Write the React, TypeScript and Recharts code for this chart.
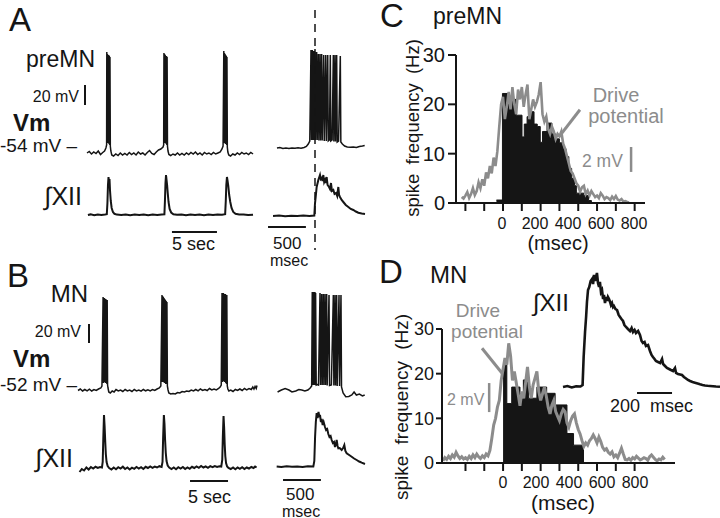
import React from 'react';
import { LineChart, Line, XAxis, YAxis, ReferenceLine, ComposedChart, Area } from 'recharts';

type P = [number, number];
const INK = '#151515';
const GRAY = '#8c8c8c';
const FONT = "'Liberation Sans', Arial, Helvetica, sans-serif";

// ---------- Panel A (preMN) ----------
const aLongVm: P[] = [
  [0, -54], [0.25, -52.5], [0.5, -55], [0.75, -53], [1.0, -54.5], [1.25, -52], [1.5, -55.5], [1.75, -53.5], [1.95, -52], [2.1, -49], [2.18, -46],
  [2.2, 47], [2.24, -44], [2.27, 45], [2.31, -43], [2.34, 44], [2.38, -44], [2.41, 44], [2.45, -45], [2.48, 43], [2.52, -46], [2.55, 42], [2.59, -47],
  [2.65, -52], [2.75, -56], [2.95, -57], [3.2, -55], [3.45, -56.5], [3.7, -54], [3.95, -56], [4.2, -54.5], [4.45, -56], [4.7, -53.5], [4.95, -55.5], [5.2, -54], [5.45, -56], [5.7, -53], [5.95, -55], [6.2, -54], [6.45, -56], [6.7, -53.5], [6.95, -51.5], [7.2, -54.5], [7.45, -55.5], [7.7, -53], [7.95, -51], [8.2, -50], [8.45, -48], [8.52, -46],
  [8.55, 46], [8.59, -44], [8.62, 45], [8.66, -43], [8.69, 44], [8.73, -44], [8.76, 43], [8.8, -45], [8.83, 43], [8.87, -46], [8.9, 42], [8.94, -47],
  [9.0, -52], [9.1, -55.5], [9.3, -56.5], [9.55, -55], [9.8, -56], [10.05, -54], [10.3, -56], [10.55, -54.5], [10.8, -56], [11.05, -54], [11.3, -55.5], [11.55, -53.5], [11.8, -55], [12.05, -53], [12.3, -55.5], [12.55, -54], [12.8, -56], [13.05, -53.5], [13.3, -55], [13.55, -54], [13.8, -55.5], [14.05, -53.5], [14.3, -55], [14.55, -54], [14.8, -53], [15.0, -50], [15.12, -47],
  [15.2, 48], [15.24, -44], [15.27, 46], [15.31, -44], [15.34, 45], [15.38, -45], [15.41, 44], [15.45, -45], [15.48, 43], [15.52, -46], [15.55, 42], [15.59, -48],
  [15.65, -53], [15.75, -56], [15.95, -57], [16.2, -55], [16.45, -56], [16.7, -54], [16.95, -55.5], [17.2, -53.5], [17.45, -55], [17.7, -54], [17.95, -55.5], [18.2, -53.5], [18.45, -55],
];
const aLongXii: P[] = [
  [0.1, 0], [0.4, 0.6], [0.8, -0.3], [1.2, 0.5], [1.6, 0], [2.0, 0.4], [2.2, 0.8], [2.27, 12], [2.33, 30], [2.39, 38], [2.45, 33], [2.5, 36], [2.56, 24], [2.64, 14], [2.74, 7], [2.88, 3], [3.05, 1.2], [3.3, 0.4], [3.8, 0], [4.3, 0.6], [4.8, -0.2], [5.3, 0.4], [5.8, 0], [6.3, 0.5], [6.8, -0.2], [7.3, 0.4], [7.8, 0], [8.3, 0.6], [8.6, 0.8],
  [8.66, 14], [8.72, 32], [8.78, 40], [8.84, 35], [8.9, 30], [8.97, 22], [9.06, 13], [9.18, 6], [9.35, 2.5], [9.6, 0.8], [10.0, 0.2], [10.5, 0.6], [11.0, -0.2], [11.5, 0.4], [12.0, 0], [12.5, 0.5], [13.0, -0.3], [13.5, 0.4], [14.0, 0], [14.5, 0.5], [15.0, 0.2], [15.35, 0.8],
  [15.42, 14], [15.48, 30], [15.55, 38], [15.62, 34], [15.7, 29], [15.8, 20], [15.92, 13], [16.06, 7], [16.25, 3], [16.5, 1.2], [16.9, 0.4], [17.4, 0.6], [17.9, 0], [18.45, 0.3],
];
const aRightVm: P[] = [
  [92, -54], [130, -53.5], [170, -54.5], [210, -54], [250, -54.6], [290, -54], [330, -54.3], [370, -53.8], [410, -54.2], [450, -53.5], [480, -52.5], [505, -50], [525, -47],
  [541, 44], [548, -46], [558, 44], [565, -46], [577, 43], [584, -46], [594, 45], [601, -46], [616, 42], [623, -46], [638, 40], [645, -46.5], [660, 40], [667, -46.5], [682, 40], [689, -46.5], [709, 39], [716, -47], [736, 39], [743, -47], [762, 39], [769, -47], [785, -46], [796, 39], [803, -47], [820, -46], [836, 39], [843, -47.5], [858, 39], [865, -47.5], [880, 39], [887, -48], [905, -47], [928, 38], [935, -48],
  [955, -50], [985, -52], [1020, -53], [1060, -53.3], [1100, -53], [1140, -53.5], [1180, -52.5], [1220, -52], [1250, -51.5],
];
const aRightXii: P[] = [
  [40, 0], [120, 0.4], [200, -0.2], [280, 0.3], [360, -0.1], [440, 0.4], [520, 0], [585, 0.5], [594, 12.7], [603, 19], [616, 29], [638, 36], [660, 41], [670, 37], [682, 38], [693, 35], [704, 41], [715, 34], [726, 36], [737, 33], [748, 39], [760, 31], [779, 29], [792, 27], [805, 33], [818, 25], [836, 26], [852, 22], [871, 23], [887, 20], [902, 29], [912, 21], [924, 19], [946, 16], [968, 14], [1000, 11], [1034, 9], [1066, 7], [1100, 6], [1133, 4.5], [1166, 3.3], [1210, 2.5], [1254, 2],
];

// ---------- Panel B (MN) ----------
const bLongVm: P[] = [
  [0, -52.5], [0.3, -51], [0.6, -53], [0.9, -51.5], [1.2, -52.8], [1.5, -51.2], [1.8, -53], [2.1, -51.5], [2.4, -52.5], [2.7, -51], [3.0, -50], [3.15, -48],
  [3.3, 41], [3.35, -45], [3.39, 40], [3.44, -44], [3.48, 40], [3.53, -44], [3.57, 39], [3.62, -45], [3.66, 39], [3.71, -45], [3.75, 38], [3.8, -46], [3.84, 38], [3.89, -47],
  [3.95, -50], [4.05, -54], [4.25, -55], [4.5, -53], [4.75, -54], [5.0, -51.5], [5.3, -53], [5.6, -52], [5.9, -53.5], [6.2, -51.5], [6.5, -53], [6.8, -52], [7.1, -53.5], [7.4, -51.5], [7.7, -53], [8.0, -52], [8.3, -53.2], [8.6, -51.5], [8.9, -52.8], [9.2, -51.8], [9.5, -53], [9.8, -51.5], [10.1, -52.5], [10.4, -51], [10.7, -50], [10.9, -48],
  [11.05, 43], [11.1, -44], [11.14, 42], [11.19, -44], [11.23, 41], [11.28, -44], [11.32, 40], [11.37, -45], [11.41, 39], [11.46, -45], [11.5, 38], [11.55, -46], [11.6, 37], [11.65, -46], [11.7, 36], [11.76, -48],
  [11.85, -52], [11.95, -55], [12.2, -56], [12.5, -55.5], [12.8, -56], [13.1, -54.5], [13.4, -55], [13.7, -53.5], [14.0, -54], [14.3, -53], [14.6, -53.5], [14.9, -52], [15.2, -53], [15.5, -51.5], [15.8, -52.8], [16.1, -51], [16.4, -52.5], [16.7, -51.5], [17.0, -52.5], [17.3, -50.5], [17.6, -52], [17.9, -51], [18.2, -52], [18.5, -50.5], [18.7, -49], [18.85, -47],
  [18.95, 45], [19.0, -44], [19.04, 45], [19.09, -43], [19.13, 45], [19.18, -43], [19.22, 44], [19.27, -44], [19.31, 44], [19.36, -44], [19.4, 44], [19.45, -45], [19.49, 43], [19.54, -46], [19.58, 43], [19.64, -48],
  [19.72, -51], [19.85, -53], [20.1, -52], [20.4, -53.5], [20.7, -51.5], [21.0, -52.5], [21.3, -51], [21.6, -52.5], [21.9, -50.5], [22.2, -51.8], [22.5, -50.5], [22.8, -51.5], [23.0, -49], [23.15, -51], [23.3, -48.5], [23.45, -50.5], [23.55, -47.5],
];
const bLongXii: P[] = [
  [0.2, -4], [0.5, -1], [0.8, -2.5], [1.1, 0.5], [1.4, -1.5], [1.7, 1], [2.0, -0.5], [2.3, 1.2], [2.6, 0], [2.9, 1], [3.15, 0.5], [3.25, 6], [3.33, 30], [3.42, 53], [3.5, 42], [3.58, 27], [3.66, 14], [3.76, 6], [3.9, 2], [4.1, 0], [4.4, -1.5], [4.7, 0.5], [5.0, -1.2], [5.3, 0.8], [5.6, -0.5], [5.9, 1.3], [6.2, -1], [6.5, 0.5], [6.8, -1.5], [7.1, 0.3], [7.4, -0.8], [7.7, 1], [8.0, -0.5], [8.3, 0.8], [8.6, -1], [8.9, 1.2], [9.2, 0], [9.5, 1.5], [9.8, 0.2], [10.1, 1.4], [10.4, 0.5], [10.7, 1.8], [11.0, 1],
  [11.12, 6], [11.2, 30], [11.3, 53], [11.38, 44], [11.46, 28], [11.55, 15], [11.65, 7], [11.8, 2.5], [12.0, 0.5], [12.3, -1], [12.6, 0.5], [12.9, -1.2], [13.2, 0.8], [13.5, -0.5], [13.8, 1], [14.1, -1], [14.4, 0.5], [14.7, -0.8], [15.0, 1.2], [15.3, 0], [15.6, 1.5], [15.9, 0.2], [16.2, 2], [16.5, 0.5], [16.8, 1.6], [17.1, 0.2], [17.4, 1.8], [17.7, 0.8], [18.0, 2], [18.3, 1], [18.6, 1.8], [18.85, 1.5],
  [18.98, 8], [19.06, 32], [19.15, 52], [19.23, 40], [19.3, 24], [19.38, 12], [19.48, 5], [19.62, 1.5], [19.8, 0], [20.1, -1], [20.4, 0.5], [20.7, -1.2], [21.0, 0.6], [21.3, -0.8], [21.6, 0.8], [21.9, -1], [22.2, 0.5], [22.5, -0.5], [22.8, 1], [23.1, 0], [23.3, 1.5], [23.5, 0.5],
];
const bRightVm: P[] = [
  [100, -52], [150, -50], [200, -48.5], [250, -50], [290, -52], [340, -51], [380, -49.5], [420, -50], [460, -51], [500, -50], [530, -48], [550, -46],
  [558, 48], [563, -45], [567, 48], [572, -45], [576, 48], [580, -45], [584, 48], [589, -45], [593, 48], [598, -45], [602, 47], [610, -45], [625, -44.5], [640, -45], [660, 47], [667, -45], [682, 46], [689, -45], [704, 46], [711, -45], [726, 46], [733, -45], [748, 46], [755, -45.5], [779, 45], [786, -45.5], [810, -45], [836, 45], [843, -45.5], [858, 45], [865, -45.5], [880, 45], [887, -46], [911, 45], [918, -46], [937, 45], [944, -47],
  [965, -53], [1000, -56.7], [1040, -56.5], [1080, -55], [1110, -52], [1140, -55], [1180, -54], [1220, -56], [1250, -55],
];
const bRightXii: P[] = [
  [88, 0.5], [150, 0], [220, 0.8], [290, 0.2], [360, 0.6], [430, 0], [500, 0.7], [572, 0.5], [585, 6], [595, 30], [605, 45], [616, 54], [628, 49], [640, 55], [652, 50], [660, 52], [672, 45], [682, 48], [695, 42], [708, 45], [726, 40], [740, 37], [755, 38], [770, 33], [785, 30], [800, 31], [814, 27], [830, 24], [845, 25], [858, 20], [870, 23], [880, 27], [892, 21], [902, 18.7], [920, 19], [946, 17], [965, 19], [981, 22], [995, 16], [1012, 13.7], [1045, 12], [1078, 10.3], [1110, 8.5], [1144, 7], [1177, 5.5], [1210, 4.3], [1254, 3],
];

// ---------- Panel C (preMN spike frequency, Hz vs msec) ----------
const histC: P[] = [
  [-35, 0.6], [-3, 22.2], [30, 20], [42, 21], [70, 17.8], [101, 13.4], [113, 16], [128, 17.5], [145, 18.5], [165, 16], [182, 15.5], [198, 12.3], [210, 14.5], [234, 16.2], [260, 14], [280, 13], [300, 12.2], [320, 11], [335, 9.4], [350, 7], [365, 5], [380, 3.5], [390, 2], [430, 1.5], [455, 0.5], [470, 0],
];
const driveC: P[] = [
  [-220, 1.2], [-210, 0.9], [-200, 1.5], [-190, 2.2], [-180, 1.0], [-170, 1.8], [-160, 3.0], [-150, 1.6], [-140, 2.4], [-130, 4.2], [-120, 3.0], [-110, 4.8], [-100, 3.5], [-90, 6.2], [-80, 5.0], [-70, 7.5], [-60, 6.0], [-50, 9.2], [-40, 7.5], [-30, 10.5], [-20, 15.5], [-10, 20.0],
  [0, 21.5], [10, 17.0], [20, 19.5], [30, 22.5], [40, 19.0], [50, 23.5], [60, 20.0], [70, 18.0], [80, 23.0], [90, 21.0], [100, 23.5], [110, 19.5], [120, 22.0], [130, 24.0], [140, 17.0], [150, 19.0], [160, 21.0], [170, 19.5], [180, 20.5], [190, 22.0], [200, 24.5], [210, 18.0], [220, 16.5], [230, 17.5], [240, 15.0], [250, 14.0], [260, 15.5], [270, 14.5], [280, 13.0], [290, 14.0], [300, 13.5], [310, 14.5], [320, 12.0], [330, 11.0], [340, 9.5], [350, 8.0], [360, 6.5], [370, 6.0], [380, 5.0], [390, 4.0], [400, 3.5], [410, 2.3], [420, 3.2], [430, 3.5], [440, 1.8], [450, 2.5], [460, 1.5], [470, 2.4], [480, 1.8], [490, 1.2], [500, 1.5], [510, 1.0], [520, 2.0], [530, 1.5], [540, 0.8], [550, 1.2], [560, 1.0], [570, 0.6], [580, 1.3], [590, 0.8], [600, 1.4], [610, 0.7], [620, 0.5], [630, 0.8], [640, 0.3], [650, 0.4], [660, 0.2], [670, 0.1],
];

// ---------- Panel D (MN spike frequency) ----------
const histD: P[] = [
  [0, 22.7], [20, 13.3], [46, 17], [90, 15.5], [108, 18.6], [135, 14.5], [180, 17], [232, 15.6], [277, 13], [340, 6.6], [375, 4], [428, 0],
];
const driveD: P[] = [
  [-320, 0.5], [-310, 1.2], [-300, 0.8], [-290, 1.5], [-280, 1.0], [-270, 1.8], [-260, 1.3], [-250, 2.4], [-240, 1.6], [-230, 1.0], [-220, 1.4], [-210, 0.9], [-200, 1.2], [-190, 0.8], [-180, 1.5], [-170, 1.0], [-160, 1.8], [-150, 1.2], [-140, 2.0], [-130, 1.4], [-120, 1.0], [-110, 1.6], [-100, 1.2], [-90, 2.0], [-80, 1.6], [-70, 2.8], [-60, 5.5], [-50, 8.5], [-40, 10.0], [-30, 12.5], [-20, 14.0], [-10, 18.5],
  [0, 21.0], [10, 23.5], [20, 22.0], [30, 26.8], [40, 24.0], [50, 18.5], [60, 20.5], [70, 18.0], [80, 15.5], [90, 12.8], [100, 16.0], [110, 14.5], [120, 18.0], [130, 21.5], [140, 17.0], [150, 14.5], [160, 17.5], [170, 19.0], [180, 20.5], [190, 16.0], [200, 14.0], [210, 15.5], [220, 17.0], [230, 15.0], [240, 12.5], [250, 11.0], [260, 13.0], [270, 14.0], [280, 11.5], [290, 10.5], [300, 9.5], [310, 11.0], [320, 12.0], [330, 11.5], [340, 9.0], [350, 8.0], [360, 9.5], [370, 10.5], [380, 11.0], [390, 9.0], [400, 7.5], [410, 6.5], [420, 5.0], [430, 3.7], [440, 4.5], [450, 4.0], [460, 5.0], [470, 5.5], [480, 6.3], [490, 5.5], [500, 4.5], [510, 5.8], [520, 4.8], [530, 3.5], [540, 2.9], [550, 3.2], [560, 2.4], [570, 2.0], [580, 2.5], [590, 1.4], [600, 1.8], [610, 1.2], [620, 2.2], [630, 3.3], [640, 2.0], [650, 0.8], [660, 0.7], [670, 1.0], [680, 0.6], [690, 1.2], [700, 0.9], [710, 1.5], [720, 1.1], [730, 0.7], [740, 0.9], [750, 1.2], [760, 1.0], [770, 0.6], [780, 1.4], [790, 1.8], [800, 1.3], [810, 0.8], [820, 0.5], [830, 0.9], [840, 0.7], [850, 1.3], [860, 0.8],
];
const insetXii: P[] = [
  [0, 0], [25, 1], [50, -0.5], [75, 0.8], [100, 0.5], [112, 2], [118, 30], [126, 55], [132, 70], [137, 85], [143, 97], [150, 100], [158, 106], [166, 108], [172, 103], [177, 112], [183, 106], [189, 110], [194, 114], [200, 104], [206, 100], [211, 105], [217, 95], [223, 97], [229, 88], [234, 92], [240, 84], [246, 90], [252, 86], [257, 90], [263, 88], [269, 85], [274, 82], [280, 84], [286, 80], [291, 81], [300, 78], [309, 77], [318, 72], [326, 70], [334, 68], [343, 66], [351, 62], [360, 60],
  [371, 58], [383, 56], [392, 59], [400, 55], [409, 57], [417, 54], [429, 56], [440, 52], [449, 46], [457, 44], [466, 45], [474, 41], [486, 42], [497, 36], [506, 32], [514, 30], [523, 28], [531, 26], [543, 25], [555, 24], [566, 28], [572, 23], [583, 21], [594, 19], [606, 18], [617, 17], [629, 16], [640, 19], [646, 14], [657, 13], [669, 12.5], [680, 12], [691, 10], [703, 8.5], [714, 7], [726, 6], [740, 5], [754, 4.3], [769, 3.5], [783, 2.7], [797, 2], [811, 1.5], [826, 1.2], [840, 1], [857, 0.8], [874, 0.5], [897, 0.3],
];

const xTicksCD = [-200, -100, 0, 100, 200, 300, 400, 500, 600, 700];
const xLabelsCD = [0, 200, 400, 600, 800];
const yTicksCD = [0, 10, 20, 30];

const toObj = (arr: P[]) => arr.map(([t, v]) => ({ t, v }));

type TraceProps = {
  left: number; top: number; w: number; h: number;
  xd: [number, number]; vd: [number, number]; idm: [number, number];
  vm: P[]; xii: P[]; children?: React.ReactNode;
};

function Trace(p: TraceProps) {
  return (
    <div style={{ position: 'absolute', left: p.left, top: p.top }}>
      <LineChart width={p.w} height={p.h} margin={{ top: 0, right: 0, bottom: 0, left: 0 }}>
        <XAxis dataKey="t" type="number" domain={p.xd} hide allowDataOverflow />
        <YAxis yAxisId="vm" type="number" domain={p.vd} hide allowDataOverflow />
        <YAxis yAxisId="xii" type="number" domain={p.idm} hide allowDataOverflow />
        <Line yAxisId="vm" data={toObj(p.vm)} dataKey="v" stroke={INK} strokeWidth={1.5} dot={false} isAnimationActive={false} />
        <Line yAxisId="xii" data={toObj(p.xii)} dataKey="v" stroke={INK} strokeWidth={2} dot={false} isAnimationActive={false} />
        {p.children}
      </LineChart>
    </div>
  );
}

const axisStroke = { stroke: INK, strokeWidth: 2 };
const EmptyTick = () => <g />;
const labelTick = { fontSize: 16, fill: INK, fontFamily: FONT };

function T(p: { x: number; y: number; s: number; a?: 'start' | 'middle' | 'end'; c?: string; b?: boolean; ws?: number; children: React.ReactNode }) {
  return (
    <text x={p.x} y={p.y} fontSize={p.s} textAnchor={p.a || 'start'} fill={p.c || INK} fontWeight={p.b ? 'bold' : 'normal'} wordSpacing={p.ws}>
      {p.children}
    </text>
  );
}

export default function App() {
  return (
    <div style={{ position: 'absolute', left: 0, top: 0, width: 720, height: 518, background: '#fff', fontFamily: FONT, overflow: 'hidden' }}>
      {/* A left traces */}
      <Trace left={80} top={40} w={180} h={200} xd={[-0.778, 19.222]} vd={[-141, 59]} idm={[-25, 175]} vm={aLongVm} xii={aLongXii}>
        <ReferenceLine yAxisId="vm" segment={[{ x: -0.22, y: -6 }, { x: -0.22, y: 14 }]} stroke={INK} strokeWidth={2} ifOverflow="visible" />
        <ReferenceLine yAxisId="xii" segment={[{ x: 9.44, y: -17 }, { x: 14.44, y: -17 }]} stroke={INK} strokeWidth={2} ifOverflow="visible" />
      </Trace>
      {/* A right traces */}
      <Trace left={262} top={0} w={108} h={260} xd={[-105.6, 1320]} vd={[-166, 94]} idm={[-44, 216]} vm={aRightVm} xii={aRightXii}>
        <ReferenceLine yAxisId="vm" segment={[{ x: 594, y: 84 }, { x: 594, y: -156 }]} stroke={INK} strokeWidth={1.5} strokeDasharray="8 6" ifOverflow="visible" />
        <ReferenceLine yAxisId="xii" segment={[{ x: -26, y: -11 }, { x: 474, y: -11 }]} stroke={INK} strokeWidth={2} ifOverflow="visible" />
      </Trace>
      {/* B left traces */}
      <Trace left={75} top={280} w={185} h={230} xd={[-0.395, 23.947]} vd={[-172, 58]} idm={[-42, 188]} vm={bLongVm} xii={bLongXii}>
        <ReferenceLine yAxisId="vm" segment={[{ x: 1.447, y: -5 }, { x: 1.447, y: 14 }]} stroke={INK} strokeWidth={2} ifOverflow="visible" />
        <ReferenceLine yAxisId="xii" segment={[{ x: 14.74, y: -13 }, { x: 19.74, y: -13 }]} stroke={INK} strokeWidth={2} ifOverflow="visible" />
      </Trace>
      {/* B right traces */}
      <Trace left={262} top={280} w={108} h={220} xd={[-105.6, 1320]} vd={[-160, 60]} idm={[-33, 187]} vm={bRightVm} xii={bRightXii}>
        <ReferenceLine yAxisId="xii" segment={[{ x: 172, y: -13 }, { x: 672, y: -13 }]} stroke={INK} strokeWidth={2} ifOverflow="visible" />
      </Trace>

      {/* C chart */}
      <div style={{ position: 'absolute', left: 380, top: 40 }}>
        <ComposedChart data={toObj(driveC)} width={280} height={193} margin={{ top: 15, right: 15, bottom: 0, left: 0 }}>
          <XAxis dataKey="t" type="number" domain={[-250, 755]} allowDataOverflow ticks={xTicksCD} interval={0} height={8} tickSize={8}
            axisLine={axisStroke} tickLine={axisStroke} tick={EmptyTick} />
          <XAxis xAxisId="lbl" dataKey="t" type="number" domain={[-278.8, 866.7]} allowDataOverflow ticks={xLabelsCD} interval={0} height={22}
            axisLine={false} tickLine={false} tickSize={0} tickMargin={7} tick={labelTick} />
          <YAxis type="number" domain={[0, 30]} allowDataOverflow ticks={yTicksCD} interval={0} width={76} tickSize={8} tickMargin={3}
            axisLine={axisStroke} tickLine={axisStroke} tick={{ fontSize: 20, fill: INK, fontFamily: FONT }} />
          <Area data={toObj(histC)} dataKey="v" type="stepAfter" stroke={INK} strokeWidth={1} fill={INK} fillOpacity={1} dot={false} isAnimationActive={false} />
          <Line dataKey="v" stroke={GRAY} strokeWidth={2.6} dot={false} isAnimationActive={false} />
          <ReferenceLine segment={[{ x: 312, y: 14.1 }, { x: 409, y: 18.9 }]} stroke={GRAY} strokeWidth={3} ifOverflow="visible" />
          <ReferenceLine segment={[{ x: 681, y: 6.3 }, { x: 681, y: 11.35 }]} stroke={GRAY} strokeWidth={2.5} ifOverflow="visible" />
        </ComposedChart>
      </div>

      {/* D inset integrated XII */}
      <div style={{ position: 'absolute', left: 560, top: 262 }}>
        <LineChart width={160} height={153} margin={{ top: 0, right: 0, bottom: 0, left: 0 }}>
          <XAxis dataKey="t" type="number" domain={[-17.1, 897.1]} hide allowDataOverflow />
          <YAxis type="number" domain={[-28, 125]} hide allowDataOverflow />
          <Line data={toObj(insetXii)} dataKey="v" stroke={INK} strokeWidth={2.6} dot={false} isAnimationActive={false} />
          <ReferenceLine segment={[{ x: 423, y: -6 }, { x: 623, y: -6 }]} stroke={INK} strokeWidth={2} ifOverflow="visible" />
        </LineChart>
      </div>

      {/* D chart */}
      <div style={{ position: 'absolute', left: 370, top: 314 }}>
        <ComposedChart data={toObj(driveD)} width={315} height={181} margin={{ top: 15, right: 10, bottom: 0, left: 0 }}>
          <XAxis dataKey="t" type="number" domain={[-325, 915]} allowDataOverflow ticks={xTicksCD} interval={0} height={8} tickSize={8}
            axisLine={axisStroke} tickLine={axisStroke} tick={EmptyTick} />
          <XAxis xAxisId="lbl" dataKey="t" type="number" domain={[-369.7, 1042.4]} allowDataOverflow ticks={xLabelsCD} interval={0} height={24}
            axisLine={false} tickLine={false} tickSize={0} tickMargin={6} tick={labelTick} />
          <YAxis type="number" domain={[0, 30]} allowDataOverflow ticks={yTicksCD} interval={0} width={72} tickSize={6} tickMargin={2}
            axisLine={axisStroke} tickLine={axisStroke} tick={{ fontSize: 18, fill: INK, fontFamily: FONT }} />
          <Area data={toObj(histD)} dataKey="v" type="stepAfter" stroke={INK} strokeWidth={1} fill={INK} fillOpacity={1} dot={false} isAnimationActive={false} />
          <Line dataKey="v" stroke={GRAY} strokeWidth={3} dot={false} isAnimationActive={false} />
          <ReferenceLine segment={[{ x: -112, y: 25.7 }, { x: -5, y: 20.1 }]} stroke={GRAY} strokeWidth={3} ifOverflow="visible" />
          <ReferenceLine segment={[{ x: -74, y: 11.4 }, { x: -74, y: 17.9 }]} stroke={GRAY} strokeWidth={2.5} ifOverflow="visible" />
        </ComposedChart>
      </div>

      {/* Text labels */}
      <svg width={720} height={518} style={{ position: 'absolute', left: 0, top: 0, pointerEvents: 'none', fontFamily: FONT }}>
        <T x={9} y={31} s={33}>A</T>
        <T x={95} y={67} s={23} a="end">preMN</T>
        <T x={79} y={102} s={16} a="end">20 mV</T>
        <T x={13} y={131} s={24} b>Vm</T>
        <T x={0} y={152} s={19}>-54 mV –</T>
        <T x={82} y={205} s={25} a="end">∫XII</T>
        <T x={172} y={250} s={18}>5 sec</T>
        <T x={273} y={249} s={17}>500</T>
        <T x={270} y={266} s={16}>msec</T>

        <T x={7} y={287} s={33}>B</T>
        <T x={88} y={302} s={24} a="end">MN</T>
        <T x={81} y={337} s={16} a="end">20 mV</T>
        <T x={13} y={367} s={24} b>Vm</T>
        <T x={0} y={391} s={19}>-52 mV –</T>
        <T x={73} y={467} s={25} a="end">∫XII</T>
        <T x={188} y={503} s={18}>5 sec</T>
        <T x={286} y={500} s={17}>500</T>
        <T x={282} y={517} s={16}>msec</T>

        <T x={380} y={27} s={33}>C</T>
        <T x={433} y={24} s={23}>preMN</T>
        <text transform="translate(412,128) rotate(-90)" textAnchor="middle" dominantBaseline="central" fontSize={18.5} fill={INK} wordSpacing={4}>spike frequency (Hz)</text>
        <T x={558} y={250} s={20} a="middle">(msec)</T>
        <T x={616} y={102} s={20} a="middle" c={GRAY}>Drive</T>
        <T x={626} y={123} s={20} a="middle" c={GRAY}>potential</T>
        <T x={582} y={167} s={17.5} c={GRAY}>2 mV</T>

        <T x={379} y={283} s={33}>D</T>
        <T x={430} y={283} s={24}>MN</T>
        <T x={533} y={311} s={24}>∫XII</T>
        <T x={478} y={317} s={19} a="middle" c={GRAY}>Drive</T>
        <T x={487} y={338} s={19} a="middle" c={GRAY}>potential</T>
        <T x={447} y={405} s={16} c={GRAY}>2 mV</T>
        <T x={610} y={412} s={18} ws={5}>200 msec</T>
        <T x={563} y={510} s={21} a="middle">(msec)</T>
        <text transform="translate(401,407) rotate(-90)" textAnchor="middle" dominantBaseline="central" fontSize={19} fill={INK} wordSpacing={6}>spike frequency (Hz)</text>
      </svg>
    </div>
  );
}
